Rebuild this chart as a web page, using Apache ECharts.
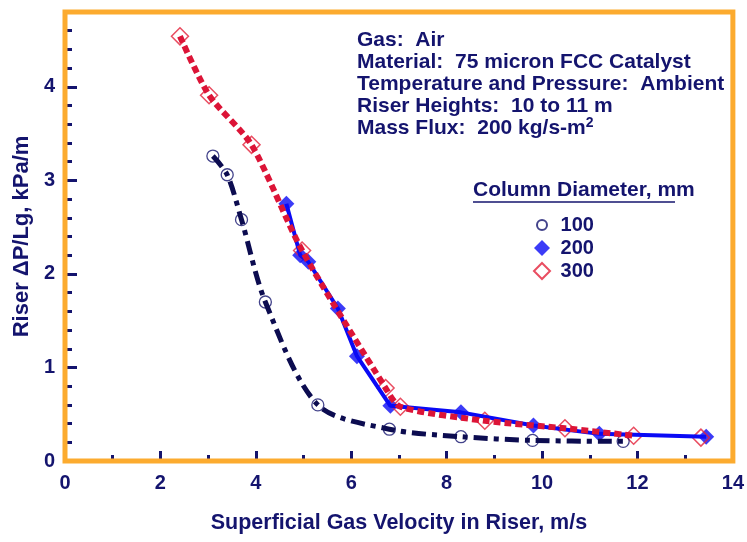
<!DOCTYPE html>
<html>
<head>
<meta charset="utf-8">
<script src="https://cdn.jsdelivr.net/npm/echarts@6/dist/echarts.min.js"></script>
<style>
  html, body { margin: 0; padding: 0; background: #fff; }
  #chart { width: 747px; height: 542px; }
</style>
</head>
<body>
<div id="chart"></div>
<script>
// values
const d100x = [3.1, 3.4, 3.7, 4.2, 5.3, 6.8, 8.3, 9.8, 11.7];
const d100y = [3.26, 3.06, 2.58, 1.70, 0.60, 0.34, 0.26, 0.22, 0.21];
const d200x = [4.64, 4.93, 5.1, 5.72, 6.12, 6.82, 8.3, 9.82, 11.2, 13.44];
const d200y = [2.75, 2.2, 2.13, 1.63, 1.12, 0.59, 0.52, 0.38, 0.29, 0.26];
const d300x = [2.41, 3.02, 3.91, 4.97, 6.72, 7.03, 8.8, 10.48, 11.92, 13.33];
const d300y = [4.54, 3.91, 3.38, 2.25, 0.78, 0.58, 0.43, 0.35, 0.27, 0.25];
// the 300 mm curve stops at the last-but-one point
const fit300End = 9;

const notes = [
  'Gas:  Air',
  'Material:  75 micron FCC Catalyst',
  'Temperature and Pressure:  Ambient',
  'Riser Heights:  10 to 11 m',
  'Mass Flux:  200 kg/s-m{sup|2}'
];
const legendTitle = 'Column Diameter, mm';
const names = ['100', '200', '300'];

const navy = '#14146e';
const font = '"Liberation Sans", Arial, sans-serif';

const pairs = (xs, ys) => xs.map((x, i) => [x, ys[i]]);

const chart = echarts.init(document.getElementById('chart'));

const option = {
  backgroundColor: '#fff',
  textStyle: { fontFamily: font },
  grid: {
    left: 65, right: 10, top: 12, bottom: 81,
    show: true,
    borderColor: '#fcab2f',
    borderWidth: 5,
    z: 3
  },
  legend: {
    data: [
      // small circle inside a 16px box, like the original key
      { name: names[0], icon: 'path://M0,0L0,0M16,16L16,16M8,3A5,5 0 1,1 8,13A5,5 0 1,1 8,3Z' },
      { name: names[1] },
      { name: names[2] }
    ],
    orient: 'vertical',
    left: 528,
    top: 210,
    itemWidth: 16,
    itemHeight: 16,
    itemGap: 3,
    selectedMode: false,
    formatter: ' {name}',
    textStyle: { color: navy, fontSize: 20, fontWeight: 'bold', fontFamily: font }
  },
  xAxis: {
    type: 'value',
    min: 0,
    max: 14,
    interval: 2,
    name: 'Superficial Gas Velocity in Riser, m/s',
    nameLocation: 'middle',
    nameGap: 51,
    nameTextStyle: { color: navy, fontSize: 21.5, fontWeight: 'bold' },
    axisLine: { show: false },
    axisTick: { inside: true, length: 10, lineStyle: { color: navy, width: 3 } },
    minorTick: { show: true, splitNumber: 2, length: 6, lineStyle: { color: navy, width: 3 } },
    splitLine: { show: false },
    axisLabel: { color: navy, fontSize: 20, fontWeight: 'bold', margin: 12 }
  },
  yAxis: [
    {
      type: 'value',
      min: 0,
      max: 4.8,
      interval: 1,
      name: 'Riser \u0394P/Lg, kPa/m',
      nameLocation: 'middle',
      nameGap: 31,
      nameTextStyle: { color: navy, fontSize: 22, fontWeight: 'bold' },
      axisLine: { show: false },
      axisTick: { inside: true, length: 12, lineStyle: { color: navy, width: 3 } },
      splitLine: { show: false },
      axisLabel: { color: navy, fontSize: 20, fontWeight: 'bold', margin: 10, showMaxLabel: false }
    },
    {
      // small dot ticks every 0.2
      type: 'value',
      position: 'left',
      min: 0,
      max: 4.8,
      interval: 0.2,
      axisLine: { show: false },
      axisTick: { inside: true, length: 7, lineStyle: { color: navy, width: 3 } },
      splitLine: { show: false },
      axisLabel: { show: false }
    }
  ],
  graphic: [
    {
      type: 'text',
      left: 357,
      top: 29,
      style: {
        text: notes.join('\n'),
        fill: navy,
        font: 'bold 21px ' + font,
        lineHeight: 22,
        rich: {
          sup: { fill: navy, font: 'bold 14px ' + font, lineHeight: 22, padding: [0, 0, 9, 0] }
        }
      }
    },
    {
      type: 'text',
      left: 473,
      top: 180,
      style: { text: legendTitle, fill: navy, font: 'bold 21px ' + font }
    },
    {
      type: 'line',
      shape: { x1: 473, y1: 202, x2: 675, y2: 202 },
      style: { stroke: navy, lineWidth: 1.5 }
    }
  ],
  series: [
    {
      name: '200',
      type: 'scatter',
      data: pairs(d200x, d200y),
      symbol: 'diamond',
      symbolSize: 16,
      itemStyle: { color: '#0a0af5' },
      z: 2
    },
    {
      name: '300',
      type: 'scatter',
      data: pairs(d300x, d300y),
      symbol: 'diamond',
      symbolSize: 17,
      itemStyle: { color: 'rgba(255,255,255,0)', borderColor: '#e3203a', borderWidth: 1.5 },
      z: 2
    },
    {
      name: '100',
      type: 'scatter',
      data: pairs(d100x, d100y),
      symbol: 'circle',
      symbolSize: 12,
      itemStyle: { color: 'rgba(255,255,255,0)', borderColor: navy, borderWidth: 1.3 },
      z: 2
    },
    {
      name: 'fit200',
      type: 'line',
      data: pairs(d200x, d200y),
      showSymbol: false,
      lineStyle: { color: '#0a0af5', width: 4 },
      z: 3
    },
    {
      name: 'fit300',
      type: 'line',
      data: pairs(d300x, d300y).slice(0, fit300End),
      showSymbol: false,
      smooth: 0.25,
      lineStyle: { color: '#dc1437', width: 6, type: [7, 4], cap: 'butt' },
      z: 4
    },
    {
      name: 'fit100',
      type: 'line',
      data: pairs(d100x, d100y),
      showSymbol: false,
      smooth: 0.3,
      lineStyle: { color: '#0c0c50', width: 5, type: [14, 6, 5, 6], cap: 'butt' },
      z: 4
    }
  ]
};

chart.setOption(option);
</script>
</body>
</html>
